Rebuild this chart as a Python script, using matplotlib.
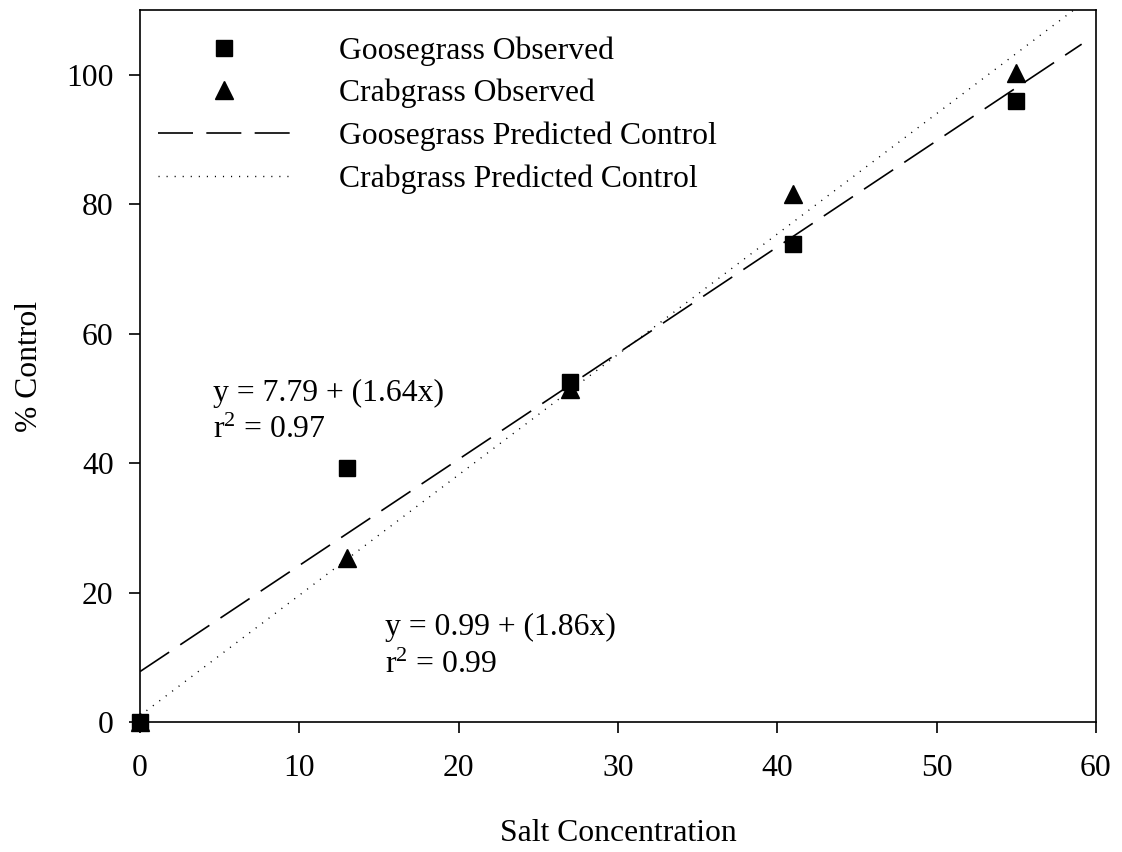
import numpy as np
import matplotlib
matplotlib.use("Agg")
import matplotlib.pyplot as plt

plt.rcParams['font.family'] = ['Liberation Serif', 'DejaVu Serif']
plt.rcParams['mathtext.fontset'] = 'custom'
plt.rcParams['mathtext.rm'] = 'Liberation Serif'
plt.rcParams['mathtext.it'] = 'Liberation Serif:italic'

# Observed data
salt = [0, 13, 27, 41, 55]
goose_obs = [0, 39.3, 52.5, 73.8, 96.0]
crab_obs = [0, 25.3, 51.5, 81.5, 100.2]

# Regression fits
goose_fit = (7.79, 1.64)
crab_fit = (0.99, 1.86)
fit_x = [0, 59.1]

fs = 22.8

fig = plt.figure(figsize=(11.22, 8.52), dpi=100)
ax = fig.add_axes([0.1248, 0.1526, 0.852, 0.8357])

xs = np.array(fit_x)
ax.plot(xs, goose_fit[0] + goose_fit[1] * xs, color='k', lw=1.2,
        dashes=(21, 8), label='Goosegrass Predicted Control')
ax.plot(xs, crab_fit[0] + crab_fit[1] * xs, color='k', lw=1.0,
        dashes=(0.8, 5), label='Crabgrass Predicted Control')
ax.plot(salt, goose_obs, 's', color='k', ms=11, clip_on=False, zorder=6,
        label='Goosegrass Observed')
ax.plot(salt, crab_obs, '^', color='k', ms=13, clip_on=False, zorder=5,
        label='Crabgrass Observed')

ax.set_xlim(0, 60)
ax.set_ylim(0, 110)
ax.set_xticks(range(0, 61, 10))
ax.set_yticks(range(0, 101, 20))
ax.tick_params(labelsize=fs, direction='out', length=8, width=1.2)
ax.tick_params(axis='x', pad=15)
ax.tick_params(axis='y', pad=11)
for s in ax.spines.values():
    s.set_linewidth(1.2)

ax.set_xlabel('Salt Concentration', fontsize=fs, labelpad=26)
ax.set_ylabel('% Control', fontsize=fs, labelpad=16)

ax.text(4.6, 50.7, 'y = 7.79 + (1.64x)', fontsize=fs, va='center')
ax.text(4.6, 45.0, r'$\mathregular{r^2}$ = 0.97', fontsize=fs, va='center')
ax.text(15.4, 14.6, 'y = 0.99 + (1.86x)', fontsize=fs, va='center')
ax.text(15.4, 8.8, r'$\mathregular{r^2}$ = 0.99', fontsize=fs, va='center')

h, l = ax.get_legend_handles_labels()
order = [2, 3, 0, 1]
ax.legend([h[i] for i in order], [l[i] for i in order], loc='upper left',
          frameon=False, fontsize=fs, handlelength=4.17, handletextpad=1.55,
          labelspacing=0.42, borderpad=0.4, borderaxespad=0.0,
          bbox_to_anchor=(0.0055, 0.981))

fig.savefig('out.png', dpi=100)
